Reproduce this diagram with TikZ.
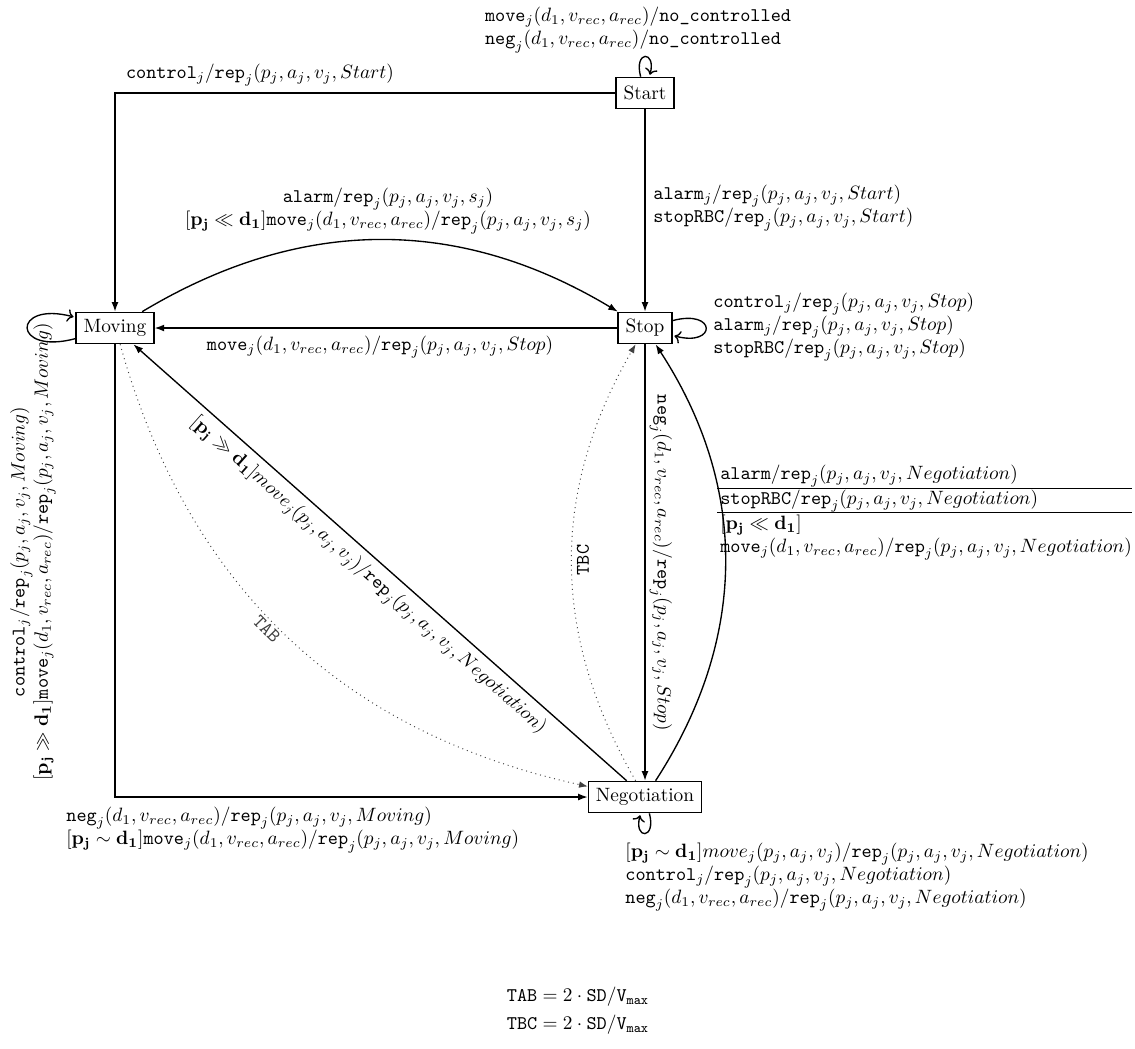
\documentclass[tikz,border=0pt]{standalone}
\usetikzlibrary{arrows.meta}
\newcommand{\ttm}[1]{\mathtt{#1}}
\newcommand{\myrep}[1]{\mathtt{rep}_j(p_j,a_j,v_j,#1)}
\newcommand{\drec}{(d_1,v_{rec},a_{rec})}
\newcommand{\pjd}[1]{[\mathbf{p_j}#1\mathbf{d_1}]}
\begin{document}
\begin{tikzpicture}[x=0.5181pt,y=-0.5181pt,
 state/.style={draw,line width=0.9pt,inner xsep=3.8pt,inner ysep=0pt,minimum height=16pt},
 tr/.style={line width=0.7pt,-{Latex[length=5pt,width=3.6pt]}},
 rtr/.style={line width=0.7pt,{Latex[length=5pt,width=3.6pt]}-},
 tm/.style={line width=0.5pt,dotted,black!75,-{Latex[length=4.5pt,width=3.4pt]}},
 lbl/.style={inner sep=0pt,align=left},
]
\useasboundingbox (0,0) rectangle (1135,1048);
% states
\node[state] (start) at (645,93) {Start};
\node[state] (moving) at (115,328) {Moving};
\node[state] (stop) at (645,328) {Stop};
\node[state] (neg) at (645,797) {Negotiation};
% transitions
\draw[tr] (start.west) -| (moving.north);
\draw[tr] (start) -- (stop);
\path (start) edge[tr,loop above] (start);
\draw[tr] (moving) to[bend left=31] (stop);
\draw[tr] (stop) -- (moving);
\path (stop) edge[tr,loop right] (stop);
\path (moving) edge[tr,loop left] (moving);
\draw[tr] (moving.south) |- (neg.west);
\draw[tm] (moving) to[bend right=31] node[pos=0.47,sloped,below,inner sep=1.5pt] (ltab) {$\ttm{TAB}$} (neg);
\draw[rtr] (moving) -- node[sloped,below,inner sep=3.5pt] (ldiag) {$\pjd{\gg}move_j(p_j,a_j,v_j)/\myrep{Negotiation}$} (neg);
\draw[tm] (neg) to[bend left=30] (stop);
\draw[tr] (stop) -- (neg);
\draw[tr] (neg) to[bend right=33] (stop);
\path (neg) edge[tr,loop below] (neg);
% labels
\node[lbl] (lsl) at (638,30) {$\ttm{move}_j\drec/$\texttt{no\_controlled}\\$\ttm{neg}_j\drec/$\texttt{no\_controlled}};
\node[lbl] (lctl) at (260,75) {$\ttm{control}_j/\myrep{Start}$};
\node[lbl,anchor=west] (lss) at (653,208) {$\ttm{alarm}_j/\myrep{Start}$\\$\ttm{stopRBC}/\myrep{Start}$};
\node[lbl,align=center] (lms) at (388,211) {$\ttm{alarm}/\myrep{s_j}$\\$\pjd{\ll}\ttm{move}_j\drec/\myrep{s_j}$};
\node[lbl] (lsm) at (380,347) {$\ttm{move}_j\drec/\myrep{Stop}$};
\node[lbl,anchor=west] (lstl) at (713,327) {$\ttm{control}_j/\myrep{Stop}$\\$\ttm{alarm}_j/\myrep{Stop}$\\$\ttm{stopRBC}/\myrep{Stop}$};
\node[lbl,rotate=90,align=center] (lml) at (33,552) {$\ttm{control}_j/\myrep{Moving}$\\$\pjd{\gg}\ttm{move}_j\drec/\myrep{Moving}$};
\node[lbl,anchor=west] (lmn) at (66,830) {$\ttm{neg}_j\drec/\myrep{Moving}$\\$\pjd{\sim}\ttm{move}_j\drec/\myrep{Moving}$};
\node[lbl,anchor=west] (lnl) at (625,877) {$\pjd{\sim}move_j(p_j,a_j,v_j)/\myrep{Negotiation}$\\$\ttm{control}_j/\myrep{Negotiation}$\\$\ttm{neg}_j\drec/\myrep{Negotiation}$};
\node[inner sep=0pt,anchor=west] (lns) at (717,512) {\begin{tabular}{@{\hspace{1.5pt}}l@{}}
$\ttm{alarm}/\myrep{Negotiation}$\\ \hline
$\ttm{stopRBC}/\myrep{Negotiation}$\\ \hline
$\pjd{\ll}$\\
$\ttm{move}_j\drec/\myrep{Negotiation}$
\end{tabular}};
\node[rotate=90,inner sep=0pt] (ltbc) at (583,560) {$\ttm{TBC}$};
\node[rotate=-90,inner sep=0pt] (lsn) at (661,563) {$\ttm{neg}_j\drec/\myrep{Stop}$};
\node[align=center] (lf) at (578,1011) {$\ttm{TAB}=2\cdot\ttm{SD}/\ttm{V}_{\ttm{max}}$\\[2.5pt]$\ttm{TBC}=2\cdot\ttm{SD}/\ttm{V}_{\ttm{max}}$};
\end{tikzpicture}
\end{document}
